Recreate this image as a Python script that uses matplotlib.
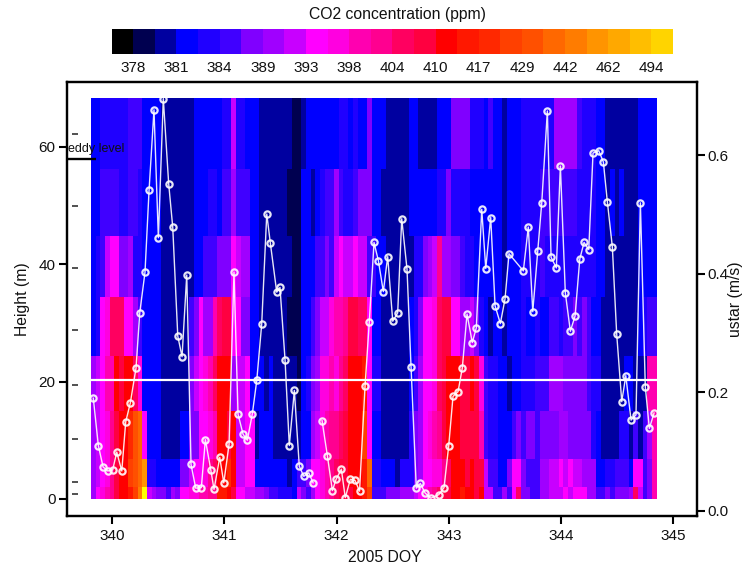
import numpy as np
import matplotlib
matplotlib.use("Agg")
import matplotlib.pyplot as plt
from matplotlib.colors import ListedColormap, BoundaryNorm
from matplotlib.transforms import blended_transform_factory

plt.rcParams['font.family'] = ['Liberation Sans', 'DejaVu Sans']

# colour scale
co2_bounds = [376.5, 378, 379.5, 381, 382.5, 384, 386.5, 389, 391, 393, 395.5, 398, 401,
              404, 407, 410, 413.5, 417, 423, 429, 435.5, 442, 452, 462, 478, 494, 510]
co2_colors = ['#000000', '#000050', '#0000a0', '#0000ff', '#2000ff', '#4000ff', '#8000ff',
              '#a000ff', '#c800ff', '#ff00ff', '#ff00e0', '#ff00b0', '#ff0090', '#ff0060',
              '#ff0040', '#ff0000', '#ff1800', '#ff2800', '#ff4000', '#ff5000', '#ff6800',
              '#ff7c00', '#ff9400', '#ffa800', '#ffbe00', '#ffd400']
co2_ticks = [378, 381, 384, 389, 393, 398, 404, 410, 417, 429, 442, 462, 494]

# sampling
height_edges = [0, 2.0, 6.8, 15, 24.3, 34.4, 44.8, 56.2, 68.3]
sensor_heights = [0.85, 2.9, 10.2, 19.4, 28.8, 39.4, 49.9, 62.2]
doy_start = 339.812
hours_per_day = 24

co2_row0 = [
 390,394,397,399,402,408,412,412,415,426,
 447,515,392,390,388,388,385,390,388,394,
 394,397,397,399,399,402,402,415,415,412,
 408,394,394,392,392,390,390,388,385,385,
 383,383,383,382,392,388,385,390,394,397,
 399,402,405,408,408,408,412,412,415,426,
 385,385,385,388,388,388,390,390,390,392,
 394,397,399,402,405,408,408,412,412,415,
 412,412,408,412,392,392,385,385,390,385,
 394,405,388,388,385,385,390,390,392,392,
 392,394,392,394,394,394,390,390,385,385,
 388,385,388,388,388,390,405,392,385,388,
 399]
co2_row1 = [
 390,392,394,397,402,408,412,412,426,432,
 439,457,383,383,382,382,382,382,382,388,
 388,392,394,394,397,402,405,412,412,420,
 412,392,392,394,394,382,382,382,382,382,
 382,382,380,382,385,385,388,394,394,397,
 399,402,405,408,408,412,412,412,415,439,
 383,383,382,382,382,380,383,383,383,388,
 390,394,394,397,397,402,405,412,412,412,
 408,412,408,408,392,385,385,382,382,388,
 394,394,388,385,385,385,390,390,392,392,
 394,392,394,392,392,390,390,390,382,382,
 383,383,385,385,385,382,394,394,385,388,
 399]
co2_row2 = [
 390,392,394,397,402,408,412,412,420,432,
 439,394,382,382,382,380,380,380,380,382,
 382,388,388,394,394,397,399,412,412,408,
 412,392,392,394,394,380,382,382,382,380,
 380,380,380,380,380,382,382,390,392,397,
 399,402,402,405,408,412,412,412,426,394,
 382,382,380,380,380,380,380,380,383,388,
 390,394,397,399,402,408,412,412,412,408,
 408,408,408,399,385,383,383,382,382,382,
 385,388,385,388,388,385,388,388,388,388,
 390,390,388,388,388,388,388,383,382,380,
 380,380,380,383,383,380,385,380,385,390,
 399]
co2_row3 = [
 390,392,394,399,399,412,408,412,412,405,
 397,382,382,382,382,380,380,380,380,380,
 380,388,392,394,397,399,405,412,412,412,
 390,392,392,394,382,382,382,380,382,380,
 380,380,380,380,379,382,383,388,390,397,
 397,399,397,402,405,412,412,412,415,394,
 383,383,380,380,380,380,380,380,382,385,
 390,394,394,397,405,408,412,412,412,408,
 408,412,408,397,385,383,383,382,382,380,
 382,382,383,383,383,385,385,385,390,390,
 390,388,388,388,388,388,385,383,383,380,
 380,380,380,380,382,382,380,380,380,399,
 399]
co2_row4 = [
 382,383,394,397,405,405,405,394,394,390,
 385,382,382,382,382,380,380,380,380,380,
 380,385,388,394,390,390,399,405,408,408,
 394,394,388,388,382,382,380,380,380,380,
 380,380,379,379,379,382,382,385,388,392,
 392,397,399,399,402,408,408,405,405,394,
 382,382,380,380,380,380,380,380,382,383,
 388,394,394,397,405,408,408,394,394,390,
 390,392,388,383,382,380,382,382,380,382,
 382,382,383,382,382,383,382,382,385,385,
 383,385,385,388,385,388,385,382,382,380,
 380,380,380,380,380,380,380,382,383,385,
 385]
co2_row5 = [
 382,383,385,392,394,394,388,388,390,383,
 383,382,382,382,382,380,380,380,380,380,
 380,380,382,382,385,385,385,388,388,388,
 394,392,390,390,382,382,380,380,380,380,
 380,380,380,379,379,382,382,382,385,385,
 388,385,392,394,392,392,394,392,392,385,
 385,382,382,380,380,380,380,380,380,383,
 383,388,390,392,402,390,390,388,388,385,
 383,383,382,382,382,382,382,382,380,382,
 382,382,383,383,383,383,385,383,383,383,
 383,383,383,383,383,383,383,383,382,382,
 380,380,380,380,380,380,380,382,382,382,
 382]
co2_row6 = [
 382,382,385,385,385,385,383,383,385,385,
 383,382,382,382,382,380,380,380,380,380,
 380,380,382,382,382,383,383,382,385,385,
 390,385,385,385,382,382,380,380,380,380,
 380,380,379,379,379,382,382,380,382,383,
 385,385,390,385,383,383,385,388,388,388,
 382,382,380,380,380,380,380,380,382,382,
 382,382,382,382,383,383,388,383,383,383,
 383,382,382,382,382,382,382,382,380,382,
 382,382,383,383,383,383,385,385,385,385,
 385,385,385,385,383,383,383,383,382,382,
 380,382,380,382,380,380,380,382,382,382,
 382]
co2_row7 = [
 382,382,383,383,383,383,383,383,385,385,
 385,382,382,382,382,380,380,380,380,380,
 380,380,382,382,382,382,382,382,383,383,
 392,383,383,382,382,382,380,380,380,380,
 380,380,380,379,379,380,382,382,382,382,
 382,382,382,383,383,382,383,382,382,388,
 382,382,382,380,380,380,380,380,382,382,
 380,380,380,380,382,382,382,388,388,388,
 388,383,383,383,382,385,382,382,380,382,
 382,382,383,383,383,383,383,383,383,390,
 390,390,390,390,385,383,383,383,382,382,
 380,380,380,380,380,380,380,382,382,382,
 382]

ustar_doy = [
 339.832,339.877,339.919,339.961,340.005,340.041,340.086,340.121,340.162,340.213,
 340.246,340.293,340.329,340.373,340.412,340.456,340.504,340.540,340.585,340.623,
 340.665,340.703,340.745,340.795,340.831,340.879,340.908,340.959,340.995,341.042,
 341.086,341.122,341.167,341.205,341.250,341.289,341.333,341.378,341.410,341.467,
 341.496,341.541,341.579,341.624,341.668,341.708,341.752,341.791,341.830,341.871,
 341.918,341.963,341.996,342.043,342.078,342.123,342.165,342.205,342.254,342.292,
 342.334,342.373,342.417,342.456,342.501,342.545,342.581,342.628,342.664,342.711,
 342.747,342.789,342.840,342.911,342.958,343.000,343.038,343.083,343.121,343.163,
 343.210,343.246,343.294,343.330,343.374,343.413,343.460,343.502,343.537,343.665,
 343.709,343.749,343.793,343.829,343.879,343.912,343.959,343.995,344.039,344.084,
 344.126,344.168,344.206,344.248,344.286,344.337,344.378,344.414,344.458,344.497,
 344.542,344.578,344.625,344.669,344.708,344.752,344.788,344.830]
ustar_val = [
 0.190,0.110,0.074,0.067,0.069,0.099,0.067,0.150,0.182,0.241,
 0.334,0.403,0.541,0.677,0.461,0.696,0.552,0.479,0.295,0.260,
 0.398,0.078,0.038,0.039,0.120,0.069,0.036,0.090,0.047,0.112,
 0.403,0.163,0.129,0.119,0.164,0.220,0.315,0.501,0.452,0.369,
 0.377,0.255,0.110,0.203,0.075,0.058,0.064,0.047,np.nan,0.152,
 0.093,0.034,0.053,0.070,0.022,0.053,0.051,0.033,0.210,0.319,
 0.453,0.422,0.370,0.429,0.320,0.334,0.493,0.408,0.243,0.038,
 0.046,0.030,0.021,0.027,0.039,0.110,0.193,0.201,0.241,0.332,
 0.284,0.309,0.509,0.409,0.495,0.346,0.316,0.358,0.434,0.405,
 0.479,0.336,0.438,0.520,0.675,0.428,0.410,0.582,0.368,0.303,
 0.329,0.425,0.453,0.441,0.604,0.608,0.589,0.521,0.446,0.298,
 0.184,0.228,0.153,0.162,0.520,0.209,0.139,0.165]

reference_height = 20.2
eddy_height = 57.9
x_ticks = [340, 341, 342, 343, 344, 345]
h_ticks = [0, 20, 40, 60]
u_ticks = [0.0, 0.2, 0.4, 0.6]

W, H = 745, 571
fig = plt.figure(figsize=(W / 100, H / 100), dpi=100, facecolor='white')
def rect(l, t, r, b):
    return [l / W, 1 - b / H, (r - l) / W, (b - t) / H]

ax = fig.add_axes(rect(66.7, 81.7, 696.7, 516))
ax.set_xlim(339.595, 345.21)
ax.set_ylim(-2.9, 71.1)

cmap = ListedColormap(co2_colors)
cmap.set_over('#ffff00')
norm = BoundaryNorm(co2_bounds, len(co2_colors), clip=False)

co2 = np.array([co2_row0, co2_row1, co2_row2, co2_row3, co2_row4, co2_row5, co2_row6, co2_row7], dtype=float)
time_edges = doy_start + np.arange(co2.shape[1] + 1) / hours_per_day
mesh = ax.pcolormesh(time_edges, height_edges, co2, cmap=cmap, norm=norm, shading='flat',
                     antialiased=False, linewidth=0)

ax.plot([time_edges[0], time_edges[-1]], [reference_height] * 2, color='white', lw=1.6, solid_capstyle='butt', zorder=3)

tr = blended_transform_factory(ax.transAxes, ax.transData)
ax.plot([0.0132] * len(sensor_heights), sensor_heights, linestyle='none', marker='_', ms=5, mew=1.1,
        color='#222222', transform=tr, clip_on=False, zorder=3)
ax.plot([0, 0.0465], [eddy_height] * 2, color='black', lw=1.7, transform=tr, solid_capstyle='butt', zorder=4)
ax.text(0.002, 59.7, 'eddy level', transform=tr, fontsize=9, color='#111111', va='center', ha='left', zorder=5)

ax2 = ax.twinx()
ax2.set_ylim(-0.009, 0.7245)
ax2.plot(ustar_doy, ustar_val, color='white', lw=1, alpha=0.9, marker='o', ms=4.5, mfc='none', mec='white', mew=1.6)

for a in (ax, ax2):
    for s in a.spines.values():
        s.set_linewidth(1.6)
        s.set_color('black')

ax.set_xticks(x_ticks)
ax.set_xticklabels([str(v) for v in x_ticks])
ax.set_yticks(h_ticks)
ax.set_yticklabels([str(v) for v in h_ticks])
ax.tick_params(axis='both', direction='out', length=6, width=1.5, labelsize=11, color='black', labelcolor='#111111')
ax.tick_params(axis='y', pad=2)
ax.tick_params(axis='x', pad=3)
ax2.set_yticks(u_ticks)
ax2.set_yticklabels([f'{v:.1f}' for v in u_ticks])
ax2.tick_params(axis='y', direction='out', length=6, width=1.5, labelsize=11, pad=2, labelcolor='#111111')

ax.set_xlabel('2005 DOY', fontsize=11.3, color='#111111')
ax.set_ylabel('Height (m)', fontsize=11.3, color='#111111')
ax2.set_ylabel('ustar (m/s)', fontsize=11.3, color='#111111')
ax.xaxis.set_label_coords((385 - 66.7) / 630, -(558 - 516) / 434.3)
ax.xaxis.label.set_va('center')
ax.yaxis.set_label_coords((22 - 66.7) / 630, 0.5)
ax.yaxis.label.set_va('center')
ax2.yaxis.set_label_coords((736 - 66.7) / 630, 0.5)
ax2.yaxis.label.set_va('center')

cax = fig.add_axes(rect(111.7, 29, 673, 54))
cb = fig.colorbar(mesh, cax=cax, orientation='horizontal', spacing='uniform', ticks=co2_ticks, drawedges=False)
cb.outline.set_visible(False)
cb.ax.minorticks_off()
cb.ax.tick_params(length=0, labelsize=11, pad=5, labelcolor='#111111')
cb.ax.set_xticklabels([str(v) for v in co2_ticks])
cb.ax.set_title('CO2 concentration (ppm)', fontsize=11.3, pad=7, color='#111111', x=0.509)

fig.savefig('out.png', dpi=100)
